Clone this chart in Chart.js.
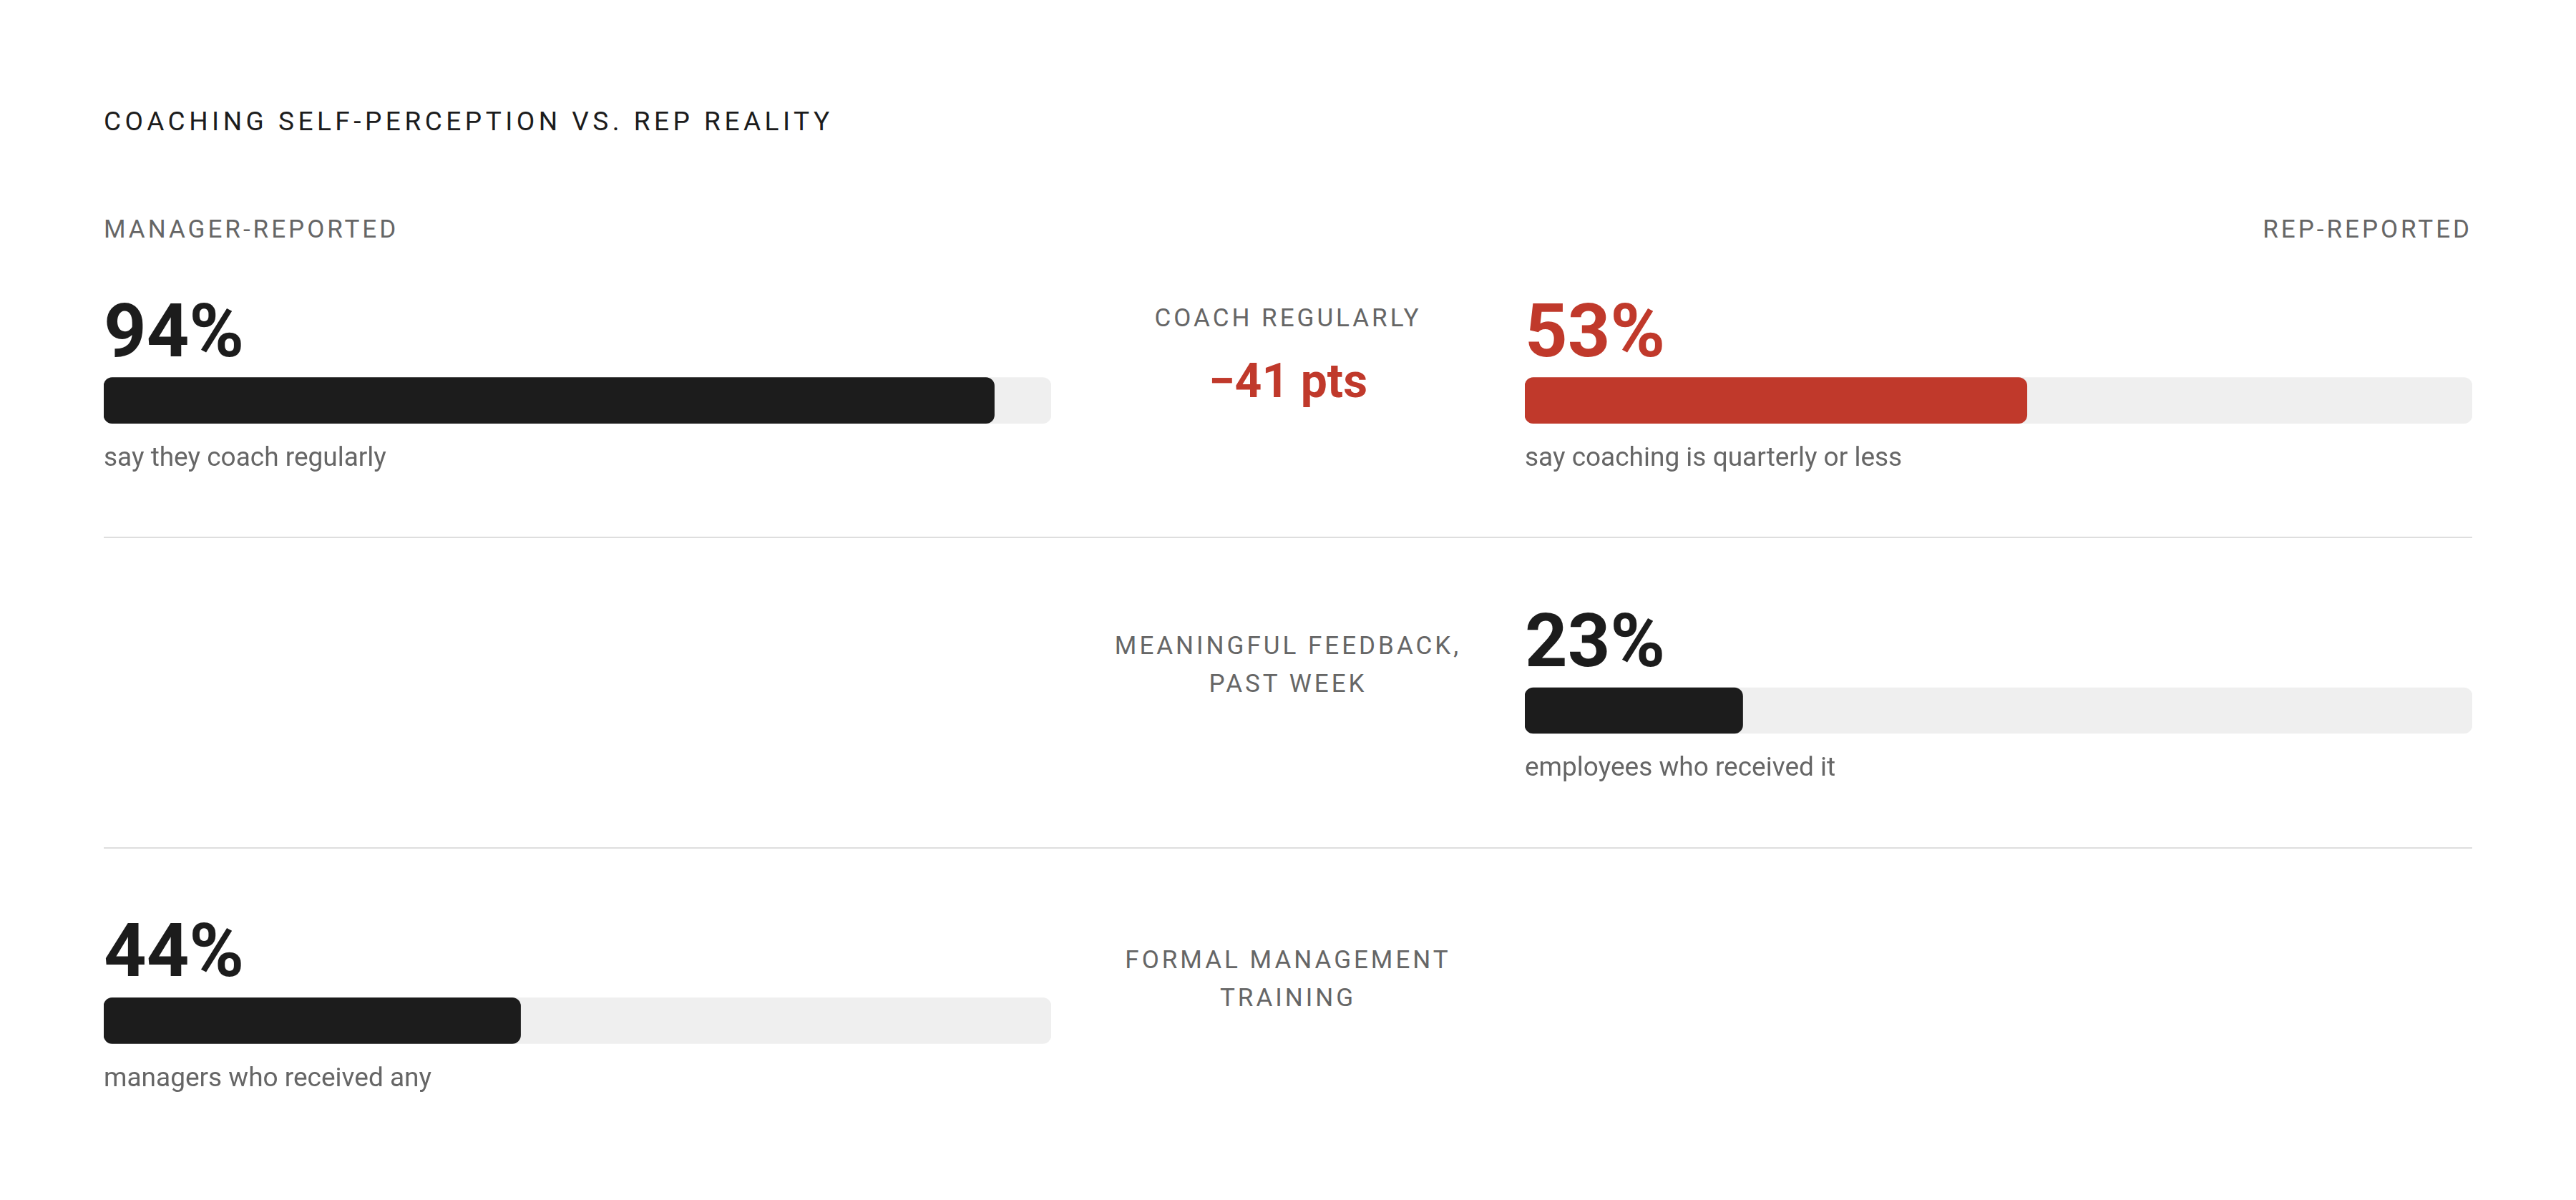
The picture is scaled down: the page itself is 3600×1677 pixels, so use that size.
<!DOCTYPE html>
<html>
<head>
<meta charset="utf-8">
<script src="https://cdn.jsdelivr.net/npm/chart.js@4"></script>
<style>
  body { margin: 0; background: #fff; width: 3600px; height: 1677px; position: relative; overflow: hidden; font-family: Roboto, "Noto Sans", sans-serif; }
  .t { position: absolute; white-space: nowrap; }
  .cap { letter-spacing: 4px; color: #666; font-size: 35px; }
  .center { text-align: center; transform: translateX(-50%); line-height: 53px; }
  .rule { position: absolute; left: 145px; width: 3310px; height: 2px; background: #dedede; }
  canvas { position: absolute; }
</style>
</head>
<body>
<div class="t" style="left:145px;top:148px;font-size:37px;letter-spacing:5.5px;color:#1c1c1c;">COACHING SELF-PERCEPTION VS. REP REALITY</div>
<div class="t cap" style="left:145px;top:300px;">MANAGER-REPORTED</div>
<div class="t cap" style="right:145px;top:300px;">REP-REPORTED</div>
<div class="t cap center" style="left:1800px;top:418px;">COACH REGULARLY</div>
<div class="t center" style="left:1800px;top:506px;font-size:66px;font-weight:bold;color:#c0392b;">&minus;41 pts</div>
<div class="t cap center" style="left:1800px;top:876px;">MEANINGFUL FEEDBACK,<br>PAST WEEK</div>
<div class="t cap center" style="left:1800px;top:1315px;">FORMAL MANAGEMENT<br>TRAINING</div>
<div class="rule" style="top:750px;"></div>
<div class="rule" style="top:1184px;"></div>
<div style="position:absolute;left:145px;top:343px;width:1324px;height:1300px;"><canvas id="leftChart"></canvas></div>
<div style="position:absolute;left:2131px;top:343px;width:1324px;height:1300px;"><canvas id="rightChart"></canvas></div>
<script>
// Data
var rows = ['Coach regularly', 'Meaningful feedback, past week', 'Formal management training'];
var managerValues = [94, null, 44];
var managerNotes = ['say they coach regularly', '', 'managers who received any'];
var repValues = [53, 23, null];
var repNotes = ['say coaching is quarterly or less', 'employees who received it', ''];
var repColors = ['#c0392b', '#1c1c1c', '#1c1c1c'];
var trackValues = [100, 100, 100];

// draws the big percentage above each bar and a note below it
var labelPlugin = {
    id: 'barLabels',
    afterDatasetsDraw: function(chart, args, opts) {
        var ctx = chart.ctx;
        var meta = chart.getDatasetMeta(0);
        var vals = chart.data.datasets[0].data;
        var left = chart.scales.x.getPixelForValue(0);
        meta.data.forEach(function(bar, i) {
            if (vals[i] === null) return;
            var top = bar.y - 32, bottom = bar.y + 32;
            ctx.save();
            ctx.textAlign = 'left';
            ctx.textBaseline = 'alphabetic';
            ctx.fillStyle = opts.numColors[i];
            ctx.font = 'bold 104px Roboto, sans-serif';
            ctx.fillText(vals[i] + '%', left, top - 30);
            ctx.fillStyle = '#666';
            ctx.font = '37px Roboto, sans-serif';
            ctx.textBaseline = 'middle';
            ctx.fillText(opts.notes[i], left, bottom + 50);
            ctx.restore();
        });
    }
};

function makeChart(id, values, colors, notes) {
    return new Chart(document.getElementById(id), {
        type: 'bar',
        data: {
            labels: rows,
            datasets: [{
                data: values,
                backgroundColor: colors,
                borderRadius: 12,
                borderSkipped: false,
                barThickness: 64,
                grouped: false,
                order: 0
            }, {
                data: trackValues.map(function(v, i) { return values[i] === null ? null : v; }),
                backgroundColor: '#efefef',
                borderRadius: 12,
                borderSkipped: false,
                barThickness: 64,
                grouped: false,
                order: 1
            }]
        },
        options: {
            indexAxis: 'y',
            responsive: true,
            maintainAspectRatio: false,
            animation: false,
            layout: { padding: 0 },
            plugins: {
                legend: { display: false },
                tooltip: { enabled: false },
                barLabels: { numColors: colors, notes: notes }
            },
            scales: {
                x: { display: false, min: 0, max: 100 },
                y: { display: false }
            }
        },
        plugins: [labelPlugin]
    });
}

makeChart('leftChart', managerValues, ['#1c1c1c', '#1c1c1c', '#1c1c1c'], managerNotes);
makeChart('rightChart', repValues, repColors, repNotes);
</script>
</body>
</html>
